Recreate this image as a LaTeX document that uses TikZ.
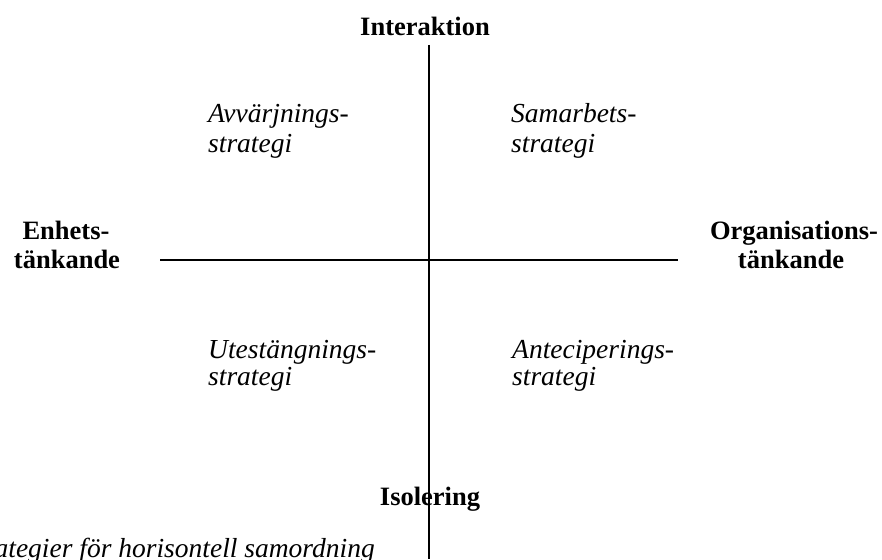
\documentclass[tikz,border=0pt]{standalone}
\usepackage{fontspec}
\setmainfont{Liberation Serif}
\begin{document}
\begin{tikzpicture}[x=1pt,y=-1pt,
  axis/.style={line width=1.6pt, black},
  head/.style={inner sep=0pt, font=\fontsize{26.5}{29}\selectfont\bfseries},
  quad/.style={inner sep=0pt, anchor=base west, font=\fontsize{27.5}{29}\selectfont\itshape},
  capt/.style={inner sep=0pt, anchor=base east, font=\fontsize{27.5}{29}\selectfont\itshape}]
\useasboundingbox (0,0) rectangle (882,559);
\coordinate (top) at (429,45);
\coordinate (bottom) at (429,559);
\coordinate (left) at (160,260);
\coordinate (right) at (678,260);
\draw[axis] (top) -- (bottom);
\draw[axis] (left) -- (right);
\node[head, anchor=base] (inter) at (425,36) {Interaktion};
\node[head, anchor=base] (iso) at (430,505) {Isolering};
\node[head, anchor=base] (enh1) at (66,239) {Enhets-};
\node[head, anchor=base] (enh2) at (67,268) {tänkande};
\node[head, anchor=base] (org1) at (794,239) {Organisations-};
\node[head, anchor=base] (org2) at (791,268) {tänkande};
\node[quad] (q1a) at (208,122) {Avvärjnings-};
\node[quad] (q1b) at (208,152) {strategi};
\node[quad] (q2a) at (511,122) {Samarbets-};
\node[quad] (q2b) at (511,152) {strategi};
\node[quad] (q3a) at (208,358) {Utestängnings-};
\node[quad] (q3b) at (208,385) {strategi};
\node[quad] (q4a) at (512,358) {Anteciperings-};
\node[quad] (q4b) at (512,385) {strategi};
\node[capt] (cap) at (375,557) {Strategier för horisontell samordning};
\end{tikzpicture}
\end{document}
